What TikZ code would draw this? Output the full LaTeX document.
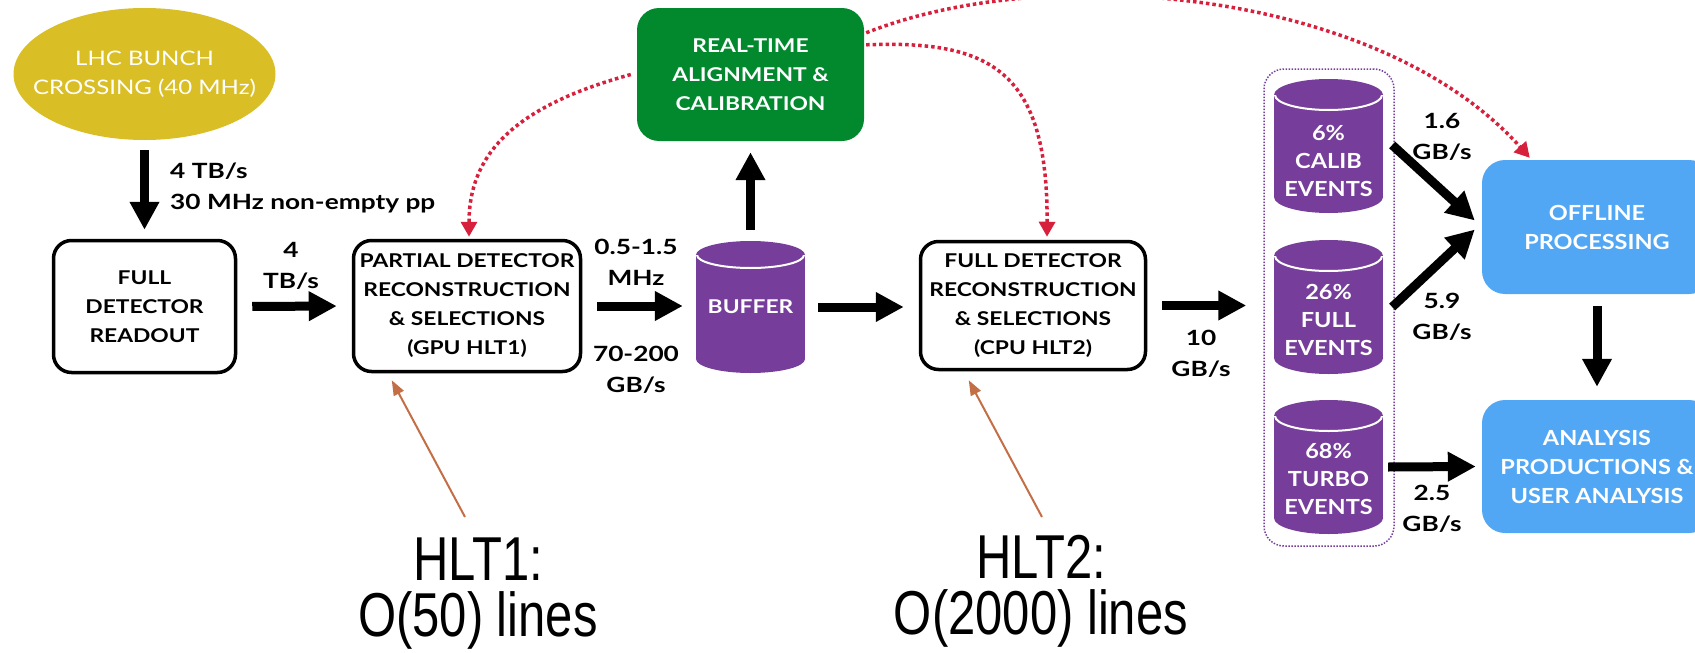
\documentclass[tikz,border=0pt]{standalone}
\usepackage{fontspec}
\setmainfont{Lato}
\newfontfamily\boxfont[FakeStretch=1.2]{Lato}
\newfontfamily\ratefont[FakeStretch=1.25]{Lato}
\newfontfamily\rightfont[FakeStretch=1.13]{Lato}
\newfontfamily\hltfont[FakeStretch=0.79]{Liberation Sans}
\usetikzlibrary{arrows.meta,calc,shapes.geometric}
\definecolor{lhcgold}{RGB}{218,190,38}
\definecolor{rtgreen}{RGB}{2,137,46}
\definecolor{cylp}{RGB}{118,61,154}
\definecolor{offblue}{RGB}{82,167,245}
\definecolor{ared}{RGB}{214,32,60}
\definecolor{abrown}{RGB}{196,110,70}
\newcommand\cylshape[5]{%
  \fill[cylp] (#1-#3/2,#2-#4/2+#5) rectangle (#1+#3/2,#2+#4/2-#5);
  \fill[cylp] (#1,#2-#4/2+#5) ellipse [x radius=#3/2, y radius=#5];
  \fill[cylp] (#1,#2+#4/2-#5) ellipse [x radius=#3/2, y radius=#5];
  \begin{scope}
    \clip (#1-#3/2-3,#2-#4/2+#5) rectangle (#1+#3/2+3,#2-#4/2+2*#5+3);
    \draw[white, line width=2pt] (#1,#2-#4/2+#5) ellipse [x radius=#3/2-1, y radius=#5-1];
  \end{scope}}
\begin{document}
\begin{tikzpicture}[x=1pt,y=-1pt,
  blkbox/.style={draw=black, line width=3.5pt, rounded corners=18pt, fill=white, align=center, inner sep=0pt,
    font=\boxfont\bfseries\fontsize{19}{29}\selectfont},
  greenbox/.style={fill=rtgreen, rounded corners=22pt, align=center, inner sep=0pt, text=white,
    font=\boxfont\bfseries\fontsize{19}{29}\selectfont},
  bluebox/.style={fill=offblue, rounded corners=23pt, align=center, inner sep=0pt, text=white,
    font=\rightfont\bfseries\fontsize{20.8}{29}\selectfont},
  cylhold/.style={inner sep=0pt, minimum width=109pt},
  cyltext/.style={align=center, inner sep=0pt, text=white,
    font=\rightfont\bfseries\fontsize{20.8}{28}\selectfont},
  rate/.style={align=center, inner sep=0pt, font=\ratefont\bfseries\fontsize{21}{31}\selectfont},
  hltlab/.style={align=center, inner sep=0pt, anchor=north, font=\hltfont\fontsize{62}{56}\selectfont},
  bigarrow/.style={line width=9pt, -{Triangle[length=28pt,width=28pt]}},
  reddot/.style={draw=ared, line width=3.5pt, dash pattern=on 3.5pt off 3pt, -{Triangle[length=15pt,width=16pt]}},
  brarrow/.style={draw=abrown, line width=2pt, -{Triangle[length=15pt,width=11pt]}}
]
\useasboundingbox (0,0) rectangle (1695,653);
\clip (0,0) rectangle (1695,653);

% LHC ellipse
\node[ellipse, fill=lhcgold, minimum width=262pt, minimum height=132pt, inner sep=0pt] (lhc) at (144.5,74) {};
\node[text=white, align=center, inner sep=0pt, font=\boxfont\fontsize{20}{29}\selectfont] (lhctxt) at (lhc.center) {LHC BUNCH\\CROSSING (40 MHz)};

\node[blkbox, minimum width=182pt, minimum height=132pt] (readout) at (144.5,306.5) {FULL\\DETECTOR\\READOUT};
\node[blkbox, minimum width=227pt, minimum height=131pt] (partial) at (467,306) {PARTIAL DETECTOR\\RECONSTRUCTION\\\& SELECTIONS\\(GPU HLT1)};
\node[greenbox, minimum width=227pt, minimum height=133pt] (green) at (750.5,74.5) {REAL-TIME\\ALIGNMENT \&\\CALIBRATION};
\node[blkbox, minimum width=225pt, minimum height=128pt] (hlt2) at (1033,305.5) {FULL DETECTOR\\RECONSTRUCTION\\\& SELECTIONS\\(CPU HLT2)};

\cylshape{750.5}{307}{109}{132}{14}
\node[cylhold, minimum height=132pt, text=white, font=\boxfont\bfseries\fontsize{19}{29}\selectfont] (buffer) at (750.5,307) {BUFFER};

\node[draw=cylp, line width=1.5pt, dash pattern=on 1.5pt off 1.5pt, rounded corners=20pt,
  minimum width=130pt, minimum height=477pt, inner sep=0pt] (store) at (1329,307.5) {};

\cylshape{1328.5}{146}{109}{134}{16}
\cylshape{1328.5}{307}{109}{134}{16}
\cylshape{1328.5}{467}{109}{134}{16}
\node[cylhold, minimum height=134pt] (calib) at (1328.5,146) {};
\node[cylhold, minimum height=134pt] (full) at (1328.5,307) {};
\node[cylhold, minimum height=134pt] (turbo) at (1328.5,467) {};
\node[cyltext] (calibtxt) at (1328.5,161) {6\%\\CALIB\\EVENTS};
\node[cyltext] (fulltxt) at (1328.5,320) {26\%\\FULL\\EVENTS};
\node[cyltext] (turbotxt) at (1328.5,479) {68\%\\TURBO\\EVENTS};

\node[bluebox, minimum width=230pt, minimum height=134pt] (offline) at (1597,227) {OFFLINE\\PROCESSING};
\node[bluebox, minimum width=230pt, minimum height=133pt] (analysis) at (1597,466.5) {ANALYSIS\\PRODUCTIONS \&\\USER ANALYSIS};

% rate labels
\node[rate, align=left, anchor=west] (r0) at (170,188) {4 TB/s\\30 MHz non-empty pp};
\node[rate] (r1) at (291,266) {4\\TB/s};
\node[rate] (r2) at (636,262) {0.5-1.5\\MHz};
\node[rate] (r3) at (636,370) {70-200\\GB/s};
\node[rate] (r4) at (1201,354) {10\\GB/s};
\node[rate] (r5) at (1442,137) {1.6\\GB/s};
\node[rate] (r6) at (1442,317) {5.9\\GB/s};
\node[rate] (r7) at (1432,509) {2.5\\GB/s};

% HLT labels
\node[hltlab] (hlt1lab) at (478,538) {HLT1:\\O(50) lines};
\node[hltlab] (hlt2lab) at (1041,535) {HLT2:\\O(2000) lines};

% black arrows
\draw[bigarrow, shorten <=10pt, shorten >=9pt] (lhc.south) -- (readout.north);
\draw[bigarrow, shorten <=15pt, shorten >=15pt] (readout.east) -- (partial.west);
\draw[bigarrow, shorten <=15pt, shorten >=13pt] (partial.east) -- (partial.east -| buffer.west);
\draw[bigarrow, shorten <=11pt, shorten >=11pt] (buffer.north) -- (green.south);
\draw[bigarrow, shorten <=13pt, shorten >=15pt] (buffer.east) -- (buffer.east -| hlt2.west);
\draw[bigarrow, shorten <=15pt, shorten >=17pt] (hlt2.east) -- (hlt2.east -| store.west);
\draw[bigarrow] ($(calib.east)+(9,-1)$) -- ($(offline.west)+(-7,-6.5)$);
\draw[bigarrow] ($(full.east)+(9,0)$) -- ($(offline.west)+(-7,2.5)$);
\draw[bigarrow] ($(turbo.east)+(5,0)$) -- ($(analysis.west)+(-6,0)$);
\draw[bigarrow, shorten <=12pt, shorten >=13pt] (offline.south) -- (analysis.north);

% red dotted feedback
\draw[reddot] ($(green.west)+(-6,0)$) .. controls (520,105) and (469,150) .. ($(partial.north)+(2,-2)$);
\draw[reddot] ($(green.north east)+(2,37)$) .. controls (990,40) and (1048,70) .. ($(hlt2.north)+(14,-3)$);
\draw[reddot] ($(green.north east)+(2,25)$) .. controls (1050,-40) and (1380,-10) .. ($(offline.north west)+(48,-2)$);

% brown pointers
\draw[brarrow] ($(hlt1lab.north)+(-13,-21)$) -- ($(partial.south west)+(40,7)$);
\draw[brarrow] ($(hlt2lab.north)+(1,-18)$) -- ($(hlt2.south west)+(50,9)$);
\end{tikzpicture}
\end{document}
